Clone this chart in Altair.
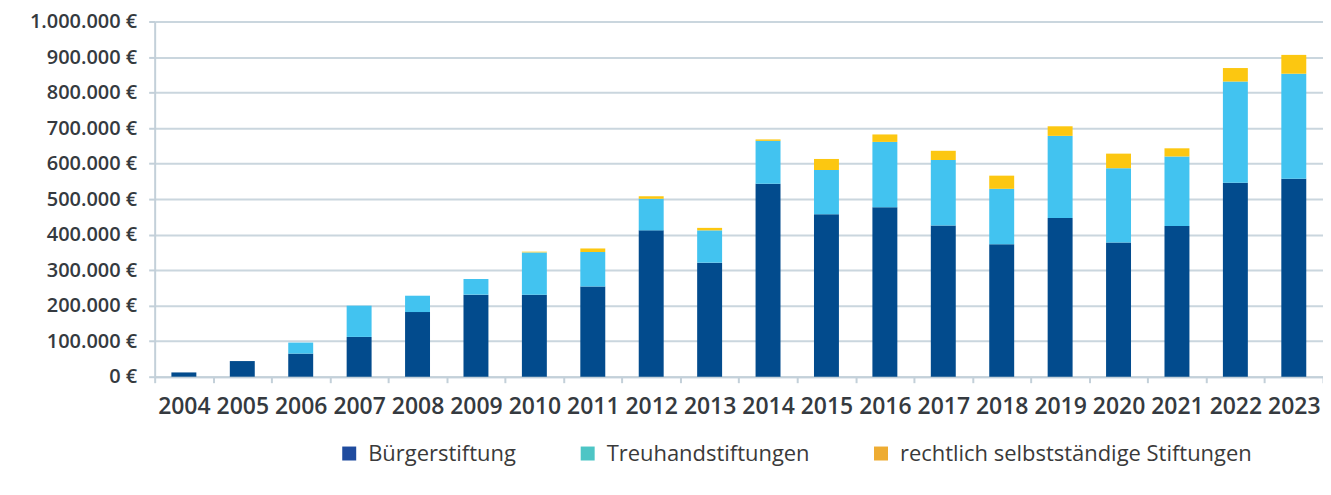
import altair as alt
import pandas as pd

years = ["2004", "2005", "2006", "2007", "2008", "2009", "2010", "2011", "2012", "2013",
         "2014", "2015", "2016", "2017", "2018", "2019", "2020", "2021", "2022", "2023"]
series = ["Bürgerstiftung", "Treuhandstiftungen", "rechtlich selbstständige Stiftungen"]
buerger = [12000, 44000, 65000, 112000, 182000, 231000, 231000, 254000, 412000, 321000,
           543000, 457000, 477000, 426000, 373000, 447000, 378000, 424000, 546000, 557000]
treuhand = [0, 0, 31000, 88000, 46000, 44000, 119000, 97000, 89000, 91000,
            121000, 125000, 184000, 184000, 156000, 231000, 209000, 196000, 285000, 296000]
rechtlich = [0, 0, 0, 0, 0, 0, 2000, 10000, 7000, 7000,
             4000, 31000, 21000, 26000, 37000, 27000, 41000, 23000, 38000, 53000]
y_ticks = [0, 100000, 200000, 300000, 400000, 500000, 600000, 700000, 800000, 900000, 1000000]

bar_colors = ["#024b8d", "#42c3f0", "#fcc711"]
legend_colors = ["#1f4b9e", "#4dc5c5", "#eeac32"]

rows = []
for i, yr in enumerate(years):
    for k, (s, vals) in enumerate(zip(series, [buerger, treuhand, rechtlich])):
        rows.append({"Jahr": yr, "Art": s, "Wert": vals[i], "Ordnung": k})
df = pd.DataFrame(rows)
leg_df = pd.DataFrame({"Jahr": [years[0]] * 3, "Art": series, "Wert": [0, 0, 0],
                       "Ordnung": [0, 1, 2]})

line_col = "#c3d0d9"

x_axis = alt.Axis(labelAngle=0, tickBand="extent", grid=False,
                  labelFont="Open Sans", labelFontSize=23, labelFontWeight=600,
                  labelColor="#353a40", labelPadding=13, tickSize=6,
                  tickColor=line_col, tickWidth=2, domainColor=line_col, domainWidth=2)
y_axis = alt.Axis(values=y_ticks, labelOverlap=False, tickCount=len(y_ticks),
                  labelExpr="replace(replace(format(datum.value, ',d'), ',', '.'), ',', '.') + ' €'",
                  labelFont="Open Sans", labelFontSize=20, labelFontWeight=600,
                  labelColor="#353a40", labelPadding=12, tickSize=6,
                  tickColor=line_col, tickWidth=2, domainColor=line_col, domainWidth=2,
                  gridColor="#cad6de", gridWidth=2)
x_scale = alt.Scale(paddingInner=0, paddingOuter=0)
y_scale = alt.Scale(domain=[0, 1000000], nice=False)

bars = alt.Chart(df).mark_bar(size=25).encode(
    x=alt.X("Jahr:N", sort=years, title=None, scale=x_scale, axis=x_axis),
    y=alt.Y("Wert:Q", stack="zero", title=None, scale=y_scale, axis=y_axis),
    color=alt.Color("Art:N", sort=series,
                    scale=alt.Scale(domain=series, range=bar_colors), legend=None),
    order=alt.Order("Ordnung:Q", sort="ascending"),
)

legend_layer = alt.Chart(leg_df).mark_bar(size=25).encode(
    x=alt.X("Jahr:N", sort=years, title=None, scale=x_scale, axis=x_axis),
    y=alt.Y("Wert:Q", stack=None, title=None, scale=y_scale, axis=y_axis),
    color=alt.Color("Art:N", sort=series,
                    scale=alt.Scale(domain=series, range=legend_colors),
                    legend=alt.Legend(title=None, orient="none", legendX=184, legendY=422,
                                      direction="horizontal", columns=3, labelLimit=0,
                                      symbolType="square", symbolSize=196, symbolStrokeWidth=0,
                                      labelFont="Open Sans", labelFontSize=22,
                                      labelColor="#3a3a3a", labelOffset=8, columnPadding=60)),
)

chart = alt.layer(bars, legend_layer).resolve_scale(color="independent").properties(
    width=1171, height=356,
    autosize=alt.AutoSizeParams(type="none"),
    padding={"left": 147, "top": 13, "right": 0, "bottom": 100},
).configure_view(stroke=None)

chart.save("out.html", embed_options={"renderer": "svg", "actions": False})
